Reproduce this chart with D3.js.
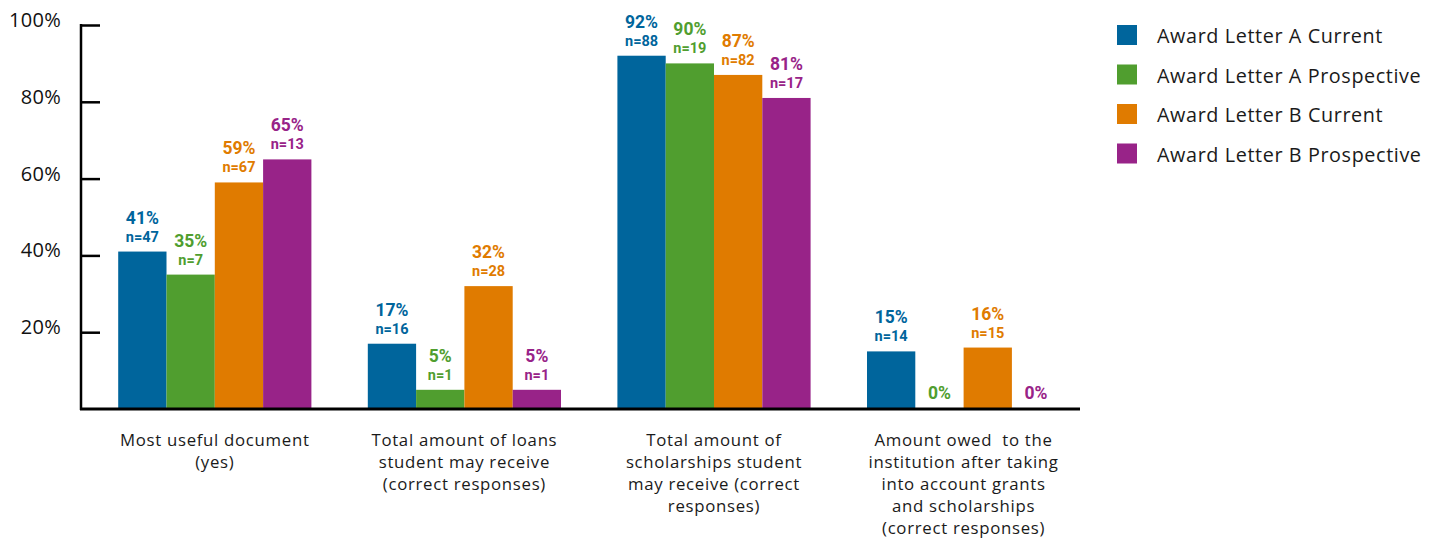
<!DOCTYPE html>
<html>
<head>
<meta charset="utf-8">
<script src="https://cdn.jsdelivr.net/npm/d3@7"></script>
<style>
  body { margin: 0; background: #fff; }
  svg { display: block; }
  .tick-label { font-family: "Open Sans", sans-serif; font-size: 20px; fill: #111; letter-spacing: 0.3px; }
  .cat-label { font-family: "Open Sans", sans-serif; font-size: 16.8px; fill: #1a1a1a; letter-spacing: 0.7px; }
  .legend-label { font-family: "Open Sans", sans-serif; font-size: 19.8px; fill: #1a1a1a; letter-spacing: 0.6px; }
  .val { font-family: Roboto, sans-serif; font-weight: 700; }
</style>
</head>
<body>
<script>
// DATA
var categories = [
  ['Most useful document', '(yes)'],
  ['Total amount of loans', 'student may receive', '(correct responses)'],
  ['Total amount of', 'scholarships student', 'may receive (correct', 'responses)'],
  ['Amount owed  to the', 'institution after taking', 'into account grants', 'and scholarships', '(correct responses)']
];
var seriesNames = ['Award Letter A Current', 'Award Letter A Prospective', 'Award Letter B Current', 'Award Letter B Prospective'];
var seriesColors = ['#00659c', '#509e2f', '#e07b00', '#982388'];

// percent values per series, one entry per category
var aCurrent     = [41, 17, 92, 15];
var aProspective = [35, 5, 90, 0];
var bCurrent     = [59, 32, 87, 16];
var bProspective = [65, 5, 81, 0];
// sample sizes (null where no n is shown)
var nACurrent     = [47, 16, 88, 14];
var nAProspective = [7, 1, 19, null];
var nBCurrent     = [67, 28, 82, 15];
var nBProspective = [13, 1, 17, null];

var yTicks = [20, 40, 60, 80, 100];

var values = [aCurrent, aProspective, bCurrent, bProspective];
var counts = [nACurrent, nAProspective, nBCurrent, nBProspective];

// SET UP DIMENSIONS
var w = 1439, h = 542;
var axisLeft = 81, axisRight = 1080;
var yTop = 25, yBottom = 409;

var svg = d3.select('body').append('svg')
  .attr('width', w)
  .attr('height', h);

// SCALES
var catIdx = d3.range(categories.length);
var x0 = d3.scaleBand()
  .domain(catIdx)
  .range([90, 1088.4])
  .paddingInner(0.226)
  .paddingOuter(0.113);

var x1 = d3.scaleBand()
  .domain(d3.range(seriesNames.length))
  .range([0, x0.bandwidth()]);

var y = d3.scaleLinear()
  .domain([0, 100])
  .range([yBottom, yTop]);

// flat list of bars
var bars = [];
catIdx.forEach(function(c) {
  values.forEach(function(s, si) {
    bars.push({cat: c, series: si, value: s[c], n: counts[si][c]});
  });
});

// BARS
svg.append('g').selectAll('rect')
  .data(bars)
  .enter().append('rect')
    .attr('x', function(d) { return x0(d.cat) + x1(d.series); })
    .attr('y', function(d) { return y(d.value); })
    .attr('width', x1.bandwidth())
    .attr('height', function(d) { return y(0) - y(d.value); })
    .attr('fill', function(d) { return seriesColors[d.series]; });

// VALUE LABELS
var lab = svg.append('g').selectAll('g')
  .data(bars)
  .enter().append('g')
    .attr('transform', function(d) {
      return translation(x0(d.cat) + x1(d.series) + x1.bandwidth() / 2, y(d.value));
    })
    .attr('fill', function(d) { return seriesColors[d.series]; })
    .attr('text-anchor', 'middle')
    .attr('class', 'val');

lab.append('text')
  .attr('y', function(d) { return d.n == null ? -10 : -28; })
  .style('font-size', '17.5px')
  .text(function(d) { return d.value + '%'; });

lab.filter(function(d) { return d.n != null; })
  .append('text')
  .attr('y', -10)
  .style('font-size', '14.5px')
  .text(function(d) { return 'n=' + d.n; });

// AXES
var yAxis = d3.axisRight(y)
  .tickValues(yTicks)
  .tickSize(19)
  .tickFormat('');

var yAxisG = svg.append('g')
  .attr('transform', translation(axisLeft, 0))
  .call(yAxis);
yAxisG.select('.domain').remove();
yAxisG.selectAll('line').attr('stroke', '#000').attr('stroke-width', 2.5);

svg.append('line')
  .attr('x1', axisLeft).attr('x2', axisLeft)
  .attr('y1', y(100) - 1).attr('y2', y(0) + 1)
  .attr('stroke', '#000').attr('stroke-width', 2.5);

svg.append('line')
  .attr('x1', axisLeft - 1).attr('x2', axisRight)
  .attr('y1', y(0)).attr('y2', y(0))
  .attr('stroke', '#000').attr('stroke-width', 3);

svg.append('g').selectAll('text')
  .data(yTicks)
  .enter().append('text')
    .attr('class', 'tick-label')
    .attr('x', 61)
    .attr('y', function(d) { return y(d) + 2; })
    .attr('text-anchor', 'end')
    .text(function(d) { return d + '%'; });

// CATEGORY LABELS
var catG = svg.append('g').selectAll('text')
  .data(catIdx)
  .enter().append('text')
    .attr('class', 'cat-label')
    .attr('text-anchor', 'middle')
    .attr('x', function(d) { return x0(d) + x0.bandwidth() / 2; })
    .attr('y', 446);

catG.selectAll('tspan')
  .data(function(d) { return categories[d]; })
  .enter().append('tspan')
    .attr('x', function() { var c = d3.select(this.parentNode).datum(); return x0(c) + x0.bandwidth() / 2; })
    .attr('dy', function(d, i) { return i === 0 ? 0 : 22; })
    .attr('xml:space', 'preserve')
    .text(function(d) { return d; });

// LEGEND
var legend = svg.append('g').selectAll('g')
  .data(seriesNames)
  .enter().append('g')
    .attr('transform', function(d, i) { return translation(1117, 25 + i * 39.5); });

legend.append('rect')
  .attr('width', 20).attr('height', 20)
  .attr('fill', function(d, i) { return seriesColors[i]; });

legend.append('text')
  .attr('class', 'legend-label')
  .attr('x', 40)
  .attr('y', 18)
  .text(function(d) { return d; });

function translation(x, y) {
  return 'translate(' + x + ',' + y + ')';
}
</script>
</body>
</html>
